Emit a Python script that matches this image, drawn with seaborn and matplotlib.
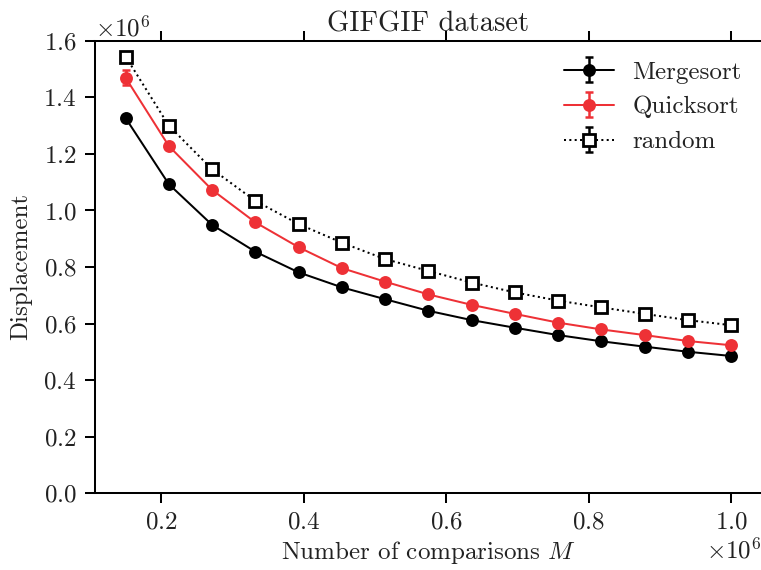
import numpy as np
import pandas as pd
import matplotlib
matplotlib.use("Agg")
import matplotlib.pyplot as plt
import seaborn as sns
from matplotlib.legend_handler import HandlerTuple

# Number of comparisons M
comparisons = [150000, 210714, 271429, 332143, 392857, 453571, 514286, 575000,
               635714, 696429, 757143, 817857, 878571, 939286, 1000000]

# Mean displacement per algorithm
mergesort = [1.327e6, 1.093e6, 0.949e6, 0.854e6, 0.781e6, 0.728e6, 0.686e6, 0.645e6,
             0.612e6, 0.585e6, 0.559e6, 0.537e6, 0.518e6, 0.500e6, 0.485e6]
quicksort = [1.470e6, 1.228e6, 1.073e6, 0.958e6, 0.870e6, 0.796e6, 0.748e6, 0.703e6,
             0.666e6, 0.634e6, 0.603e6, 0.579e6, 0.559e6, 0.538e6, 0.523e6]
random_order = [1.545e6, 1.300e6, 1.146e6, 1.034e6, 0.952e6, 0.886e6, 0.828e6, 0.786e6,
                0.745e6, 0.710e6, 0.681e6, 0.657e6, 0.634e6, 0.612e6, 0.594e6]

# Standard errors
mergesort_err = [6e3, 4e3, 3e3, 3e3, 2e3, 2e3, 2e3, 2e3, 2e3, 2e3, 2e3, 2e3, 2e3, 2e3, 2e3]
quicksort_err = [2.6e4, 1.0e4, 6e3, 5e3, 4e3, 4e3, 3e3, 3e3, 3e3, 3e3, 3e3, 3e3, 3e3, 3e3, 3e3]
random_err = [5e3, 4e3, 3e3, 3e3, 2e3, 2e3, 2e3, 2e3, 2e3, 2e3, 2e3, 2e3, 2e3, 2e3, 2e3]

labels = ["Mergesort", "Quicksort", "random"]

FS = 18

sns.set_theme(style="ticks")
plt.rcParams.update({
    "font.family": ["cmr10", "DejaVu Serif"],
    "mathtext.fontset": "cm",
    "axes.unicode_minus": False,
    "axes.formatter.use_mathtext": True,
    "font.size": FS,
    "axes.titlesize": 20.5,
    "axes.labelsize": FS,
    "xtick.labelsize": FS,
    "ytick.labelsize": FS,
    "legend.fontsize": FS,
    "axes.linewidth": 1.45,
    "axes.edgecolor": "black",
    "text.color": "#222222",
    "axes.labelcolor": "#222222",
    "xtick.color": "black",
    "ytick.color": "black",
    "xtick.labelcolor": "#222222",
    "ytick.labelcolor": "#222222",
    "xtick.direction": "out",
    "ytick.direction": "out",
    "xtick.major.size": 7.2,
    "ytick.major.size": 7.2,
    "xtick.major.width": 1.45,
    "ytick.major.width": 1.45,
    "xtick.major.pad": 6,
    "ytick.major.pad": 6,
    "xtick.top": True,
    "xtick.labeltop": False,
})

fig = plt.figure(figsize=(7.61, 5.70), dpi=100)
ax = fig.add_axes([95 / 761, 1 - 493 / 570, 1.001 - 95 / 761, (493 - 41) / 570])

red = "#EE3136"
styles = [
    dict(values=mergesort, err=mergesort_err, color="black", ls="-", marker="o",
         mfc="black", mec="black", ms=9.3, mew=0),
    dict(values=quicksort, err=quicksort_err, color=red, ls="-", marker="o",
         mfc=red, mec=red, ms=9.3, mew=0),
    dict(values=random_order, err=random_err, color="black", ls=":", marker="s",
         mfc="white", mec="black", ms=8, mew=2.0),
]

handles = []
for label, st in zip(labels, styles):
    df = pd.DataFrame({"M": comparisons, "disp": st["values"]})
    sns.lineplot(data=df, x="M", y="disp", ax=ax, color=st["color"], linestyle=st["ls"],
                 linewidth=1.45, marker=st["marker"], markersize=st["ms"],
                 markerfacecolor=st["mfc"], markeredgecolor=st["mec"],
                 markeredgewidth=st["mew"], legend=False, zorder=3)
    ln = ax.lines[-1]
    eb = ax.errorbar(comparisons, st["values"], yerr=st["err"], fmt="none",
                     ecolor=st["color"], elinewidth=1.8, capsize=3, capthick=1.8,
                     zorder=2.5)
    handles.append((eb, ln))

ax.set_xlim(107000, 1043000)
ax.set_ylim(0, 1.6e6)
ax.set_xticks([200000, 400000, 600000, 800000, 1000000])
ax.set_yticks(np.arange(0, 1.61e6, 0.2e6))
ax.ticklabel_format(axis="both", style="sci", scilimits=(6, 6), useMathText=True)
ax.xaxis.get_offset_text().set_fontsize(FS)
ax.yaxis.get_offset_text().set_fontsize(FS)

ax.spines["right"].set_visible(True)
ax.spines["right"].set_color("#cccccc")
ax.tick_params(axis="y", right=False)

ax.set_xlabel("Number of comparisons $M$", labelpad=4)
ax.set_ylabel("Displacement", labelpad=8)
ax.set_title("GIFGIF dataset", pad=7)

ax.legend(handles, labels, loc="upper right", frameon=False, handlelength=2.0,
          handletextpad=0.75, labelspacing=0.5, borderaxespad=0.4,
          handler_map={tuple: HandlerTuple(ndivide=1)})

fig.savefig("out.png", dpi=100)
